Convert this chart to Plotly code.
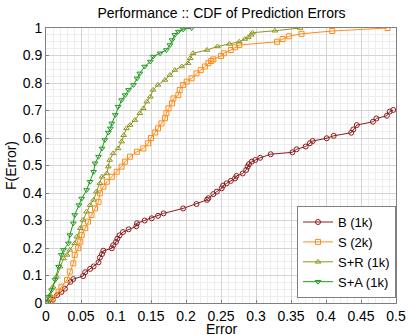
import plotly.graph_objects as go

# ---- data ----
b_x = [0.003,0.01,0.016,0.022,0.027,0.035,0.039,0.053,0.056,0.063,0.068,0.075,0.077,0.08,0.082,0.094,0.096,0.1,0.102,0.105,0.11,0.118,0.129,0.13,0.141,0.151,0.16,0.168,0.196,0.215,0.23,0.232,0.239,0.244,0.251,0.253,0.258,0.264,0.27,0.272,0.281,0.286,0.288,0.29,0.294,0.299,0.306,0.321,0.352,0.358,0.371,0.377,0.381,0.401,0.411,0.436,0.439,0.444,0.467,0.472,0.487,0.491,0.496]
b_y = [0.003,0.012,0.029,0.04,0.052,0.077,0.087,0.098,0.112,0.124,0.133,0.148,0.165,0.178,0.19,0.199,0.21,0.222,0.234,0.246,0.258,0.268,0.279,0.29,0.3,0.308,0.317,0.326,0.344,0.36,0.375,0.381,0.396,0.405,0.417,0.427,0.435,0.444,0.453,0.462,0.471,0.484,0.496,0.505,0.514,0.52,0.528,0.541,0.548,0.559,0.569,0.581,0.589,0.599,0.608,0.619,0.631,0.647,0.659,0.671,0.681,0.696,0.702]

s_x = [0.002,0.01,0.018,0.022,0.03,0.034,0.039,0.041,0.046,0.049,0.051,0.056,0.06,0.065,0.07,0.075,0.077,0.082,0.087,0.094,0.101,0.108,0.113,0.12,0.13,0.139,0.146,0.15,0.156,0.16,0.165,0.17,0.172,0.175,0.18,0.182,0.189,0.191,0.196,0.201,0.208,0.215,0.221,0.227,0.232,0.236,0.239,0.25,0.254,0.264,0.27,0.276,0.33,0.338,0.347,0.365,0.409,0.488]
s_y = [0.003,0.017,0.041,0.059,0.084,0.114,0.144,0.175,0.199,0.223,0.247,0.272,0.296,0.32,0.344,0.368,0.399,0.423,0.441,0.459,0.477,0.496,0.514,0.532,0.55,0.562,0.581,0.6,0.62,0.635,0.653,0.672,0.69,0.708,0.726,0.744,0.756,0.775,0.793,0.805,0.817,0.835,0.847,0.86,0.872,0.88,0.886,0.898,0.908,0.92,0.93,0.938,0.95,0.96,0.97,0.979,0.989,1.0]

sr_x = [0.001,0.006,0.01,0.015,0.02,0.025,0.03,0.034,0.041,0.044,0.049,0.053,0.058,0.063,0.068,0.072,0.077,0.08,0.087,0.089,0.091,0.096,0.103,0.108,0.111,0.115,0.12,0.127,0.134,0.139,0.144,0.149,0.153,0.16,0.17,0.177,0.184,0.194,0.203,0.206,0.21,0.23,0.245,0.262,0.276,0.284,0.289,0.293,0.295,0.327,0.363]
sr_y = [0.003,0.029,0.059,0.096,0.132,0.162,0.175,0.193,0.217,0.241,0.272,0.302,0.332,0.356,0.375,0.405,0.435,0.459,0.471,0.496,0.52,0.544,0.562,0.587,0.61,0.635,0.647,0.665,0.69,0.708,0.732,0.75,0.775,0.793,0.811,0.829,0.847,0.86,0.872,0.89,0.908,0.92,0.933,0.942,0.95,0.96,0.966,0.975,0.983,0.99,1.0]

sa_x = [0.001,0.003,0.008,0.013,0.018,0.022,0.025,0.032,0.034,0.039,0.041,0.047,0.051,0.058,0.063,0.068,0.07,0.075,0.08,0.084,0.089,0.092,0.094,0.099,0.103,0.108,0.113,0.118,0.125,0.13,0.134,0.141,0.149,0.153,0.163,0.172,0.177,0.18,0.184,0.189,0.196,0.208]
sa_y = [0.003,0.023,0.047,0.084,0.132,0.175,0.193,0.217,0.247,0.29,0.32,0.356,0.38,0.411,0.441,0.477,0.508,0.532,0.562,0.593,0.62,0.635,0.653,0.684,0.714,0.738,0.756,0.775,0.793,0.817,0.835,0.86,0.878,0.896,0.908,0.92,0.938,0.956,0.975,0.987,0.995,1.0]

names = ["B (1k)", "S (2k)", "S+R (1k)", "S+A (1k)"]
colors = ["#8c1c1c", "#ff8c1a", "#8f961e", "#1e9a1e"]
symbols = ["circle-open", "square-open", "triangle-up-open", "triangle-down-open"]
series = [(b_x, b_y), (s_x, s_y), (sr_x, sr_y), (sa_x, sa_y)]

FONT = "Liberation Sans, Arial, sans-serif"

fig = go.Figure()
for (xs, ys), n, c, sym in zip(series, names, colors, symbols):
    fig.add_trace(go.Scatter(
        x=xs, y=ys, name=n, mode="lines+markers",
        line=dict(color=c, width=1),
        marker=dict(symbol=sym, size=5, color=c, line=dict(color=c, width=1)),
    ))

axis_common = dict(
    showline=True, linecolor="#808080", linewidth=1, mirror=True,
    gridcolor="#d4d4d4", gridwidth=1, zeroline=False,
    ticks="inside", ticklen=3, tickcolor="#808080", automargin=False,
    tickfont=dict(family=FONT, size=14, color="#000"),
)

fig.update_layout(
    width=408, height=335,
    margin=dict(l=46, r=12, t=28, b=32),
    paper_bgcolor="white", plot_bgcolor="white",
    font=dict(family=FONT, size=14, color="#000"),
    title=dict(text="Performance :: CDF of Prediction Errors", x=0.543, xanchor="center",
               y=0.961, yanchor="middle", automargin=False,
               font=dict(family=FONT, size=14, color="#000")),
    xaxis=dict(range=[0, 0.5], dtick=0.05, tickformat="~g",
               minor=dict(dtick=0.01, showgrid=True, gridcolor="#eeeeee", gridwidth=1),
               **axis_common),
    yaxis=dict(range=[0, 1], dtick=0.1, tickformat="~g",
               minor=dict(dtick=0.025, showgrid=True, gridcolor="#eeeeee", gridwidth=1),
               title=dict(text="F(Error)", standoff=2, font=dict(family=FONT, size=14)),
               **axis_common),
    legend=dict(x=1, xanchor="right", y=0.018, yanchor="bottom",
                bgcolor="white", bordercolor="#808080", borderwidth=1,
                font=dict(family=FONT, size=13), tracegroupgap=0, itemwidth=30),
    showlegend=True,
    annotations=[dict(text="Error", xref="paper", yref="paper", x=0.5, y=-0.095,
                      xanchor="center", yanchor="middle", showarrow=False,
                      font=dict(family=FONT, size=14, color="#000"))],
)

fig.write_html("out.html", post_script="document.body.style.margin='0';",
               config={"displayModeBar": False})
